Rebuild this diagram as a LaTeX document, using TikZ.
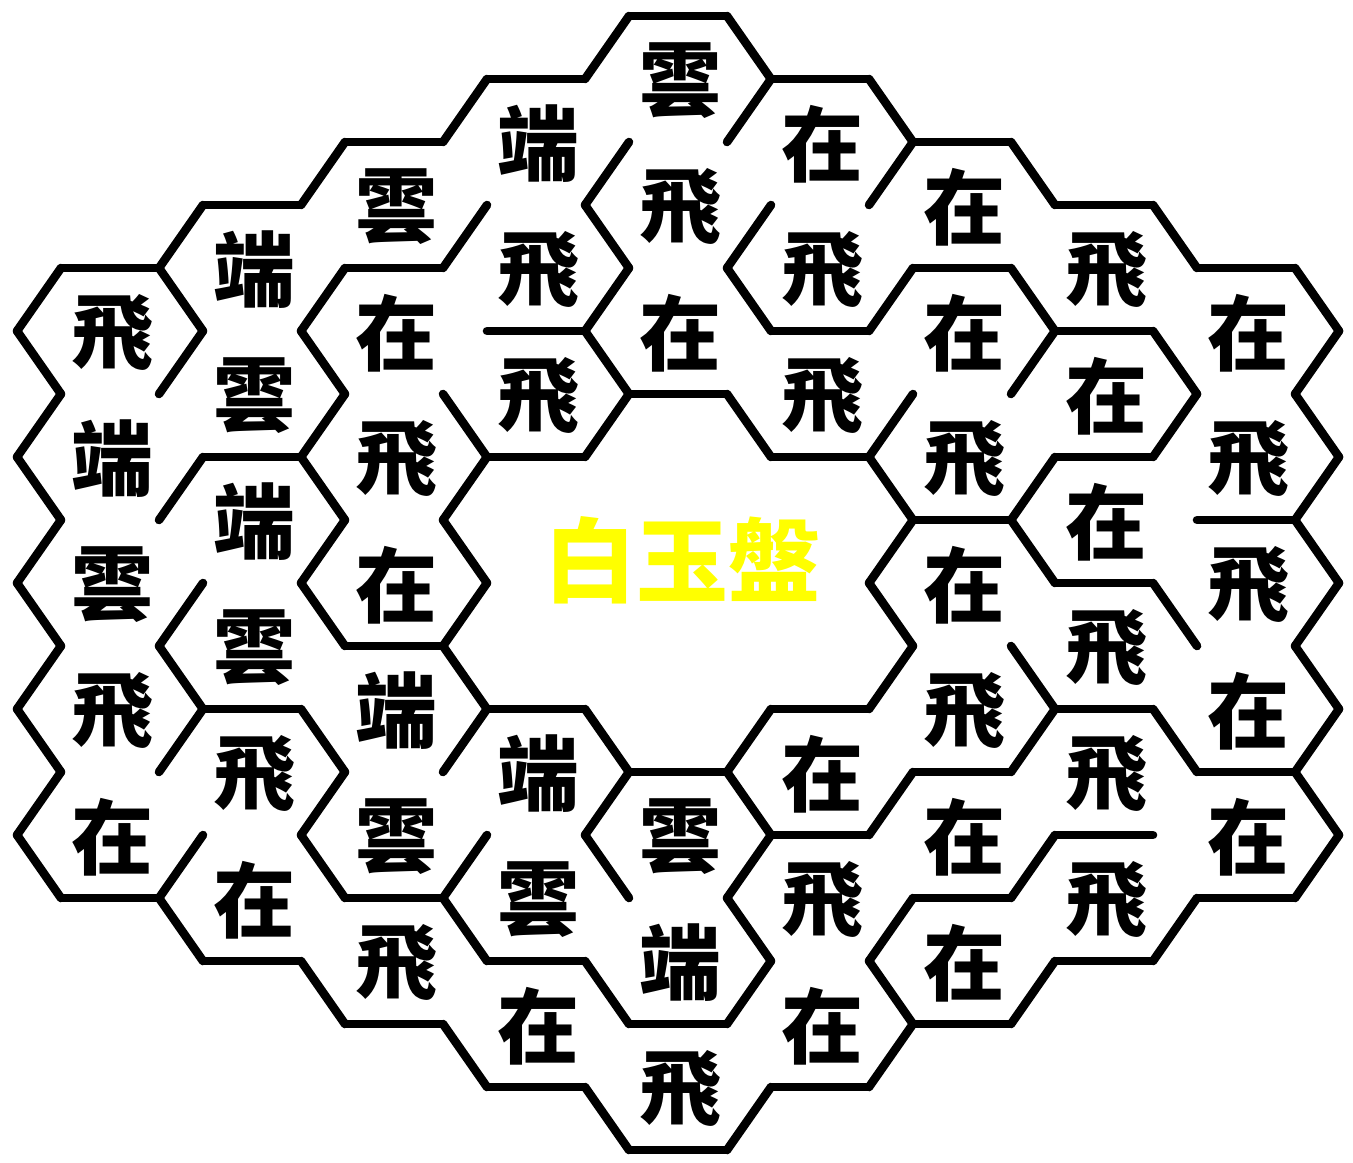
\documentclass[tikz,border=0pt]{standalone}
\usepackage{fontspec}
\newfontfamily\cjk{Noto Sans CJK TC}
\usetikzlibrary{positioning,calc}
\definecolor{panyellow}{RGB}{255,255,0}

\tikzset{
  wall/.style={line width=4.3pt, line cap=round, line join=round},
  glyph/.style={font=\cjk\bfseries\fontsize{41}{41}\selectfont, inner sep=0pt},
  hxt/.style={insert path={++(-49,-63) -- ++(98,0)}},
  hxb/.style={insert path={++(-49,63) -- ++(98,0)}},
  hxtl/.style={insert path={++(-93,0) -- ++(44,-63)}},
  hxbl/.style={insert path={++(-93,0) -- ++(44,63)}},
  hxtr/.style={insert path={++(93,0) -- ++(-44,-63)}},
  hxbr/.style={insert path={++(93,0) -- ++(-44,63)}}
}

\begin{document}
\begin{tikzpicture}[x=0.5pt, y=-0.5pt]
\useasboundingbox (0,0) rectangle (1353,1162);
\fill[white] (0,0) rectangle (1353,1162);

% cells, column by column (x marks the middle plate)
\foreach \q/\n/\col in {0/5/{飛,端,雲,飛,在}, 1/6/{端,雲,端,雲,飛,在},
    2/7/{雲,在,飛,在,端,雲,飛}, 3/8/{端,飛,飛,x,x,端,雲,在},
    4/9/{雲,飛,在,x,x,x,雲,端,飛}, 5/8/{在,飛,飛,x,x,在,飛,在},
    6/7/{在,在,飛,在,飛,在,在}, 7/6/{飛,在,在,飛,飛,飛},
    8/5/{在,飛,飛,在,在}} {
  \foreach \ch [count=\i from 0] in \col {
    \coordinate (c-\q-\i) at ({110+142*\q},{583+(\i-(\n-1)/2)*126});
    \if x\ch\else \node[glyph] (t-\q-\i) at ($(c-\q-\i)+(2,2)$) {\ch}; \fi
  }
}

\node[glyph, text=panyellow, font=\cjk\bfseries\fontsize{46}{46}\selectfont] (title) at (682,560) {白玉盤};

% walls: cell / sides
\foreach \q/\k/\sides in {
    0/0/{t,tl,bl,tr,br}, 0/1/{tl,bl,br}, 0/2/{tl,bl,br}, 0/3/{tl,bl,tr,br}, 0/4/{tl,bl,b,br},
    1/0/{tl,t,br}, 1/1/{tr,br,b}, 1/2/{tr,br}, 1/3/{tr,b}, 1/4/{tr,br}, 1/5/{tr,bl,b},
    2/0/{tl,t,br,b}, 2/2/{tr,br}, 2/3/{tr,br,b}, 2/4/{tr,br}, 2/5/{br,b}, 2/6/{tr,bl,b},
    3/0/{tl,t,br}, 3/1/{tr,br,b}, 3/2/{tr,br,b}, 3/4/{b}, 3/5/{tr,br}, 3/6/{tr,b}, 3/7/{tr,bl,b},
    4/0/{tl,t,tr,br}, 4/1/{br}, 4/2/{tr,b}, 4/3/{tr}, 4/5/{br,b}, 4/6/{tr,br}, 4/7/{tr,br,b}, 4/8/{bl,b,br},
    5/0/{t,tr,br}, 5/1/{br,b}, 5/2/{br,b}, 5/3/{tr,br}, 5/4/{tr,br,b}, 5/5/{br,b}, 5/6/{br}, 5/7/{tr,b,br},
    6/0/{t,tr,b}, 6/1/{tr,br}, 6/2/{br,b}, 6/3/{tr}, 6/4/{tr,br,b}, 6/5/{br,b}, 6/6/{b,br},
    7/0/{t,tr,b}, 7/1/{tr,br,b}, 7/2/{b}, 7/3/{tr,b}, 7/4/{tr,b}, 7/5/{b,br},
    8/0/{t,tr,br}, 8/1/{tr,br,b}, 8/2/{tr,br}, 8/3/{tr,br,b}, 8/4/{tr,br,b}} {
  \foreach \s in \sides {\draw[wall] (c-\q-\k) [hx\s];}
}
\end{tikzpicture}
\end{document}
